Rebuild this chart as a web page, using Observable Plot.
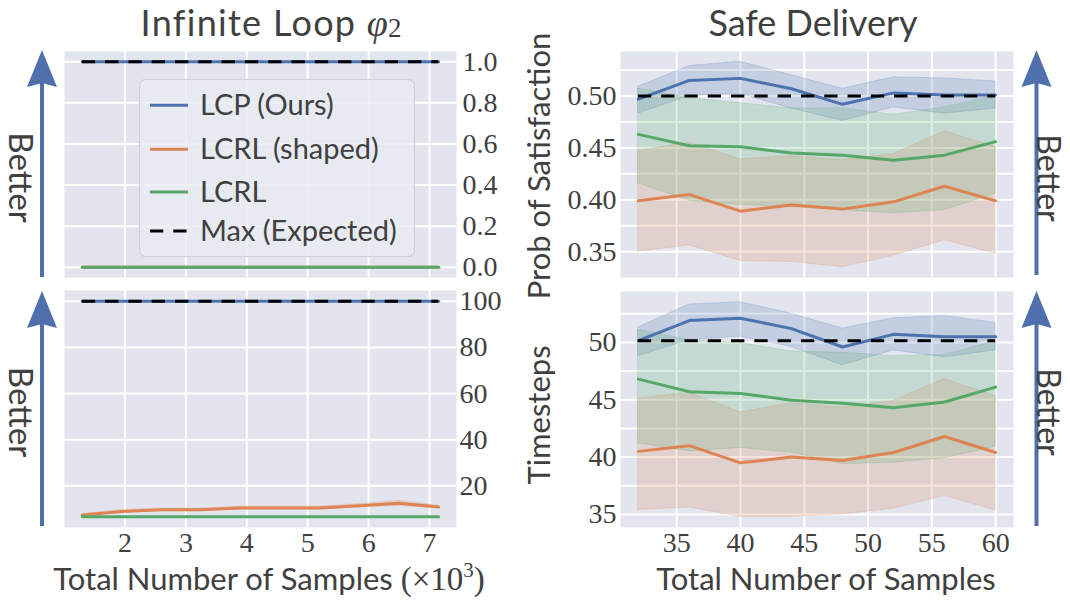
<!DOCTYPE html>
<html><head><meta charset="utf-8">
<script src="https://cdn.jsdelivr.net/npm/d3@7"></script>
<script src="https://cdn.jsdelivr.net/npm/@observablehq/plot@0.6"></script>
<style>
body{margin:0;background:#fff;}
#root{position:relative;width:1070px;height:602px;overflow:hidden;background:#fff;}
#root > svg{position:absolute;left:0;top:0;}
</style></head><body><div id="root"></div>
<script>
// ---------- data ----------
const SERIES = ["LCP (Ours)", "LCRL (shaped)", "LCRL"];
const COLORS = ["#4c72b0", "#dd8452", "#55a868"];
const MAX_LABEL = "Max (Expected)";
const TITLES = ["Infinite Loop ", "Safe Delivery"];
const XLABEL = "Total Number of Samples";
const YLABELS = ["Prob of Satisfaction", "Timesteps"];
const BETTER = "Better";

// Infinite Loop (x in thousands of samples)
const loopX = [1.3, 1.95, 2.6, 3.25, 3.9, 4.55, 5.2, 5.85, 6.5, 7.15];
const loopXTicks = [2, 3, 4, 5, 6, 7];
const loopProbLCP    = [1, 1, 1, 1, 1, 1, 1, 1, 1, 1];
const loopProbShaped = [0, 0, 0, 0, 0, 0, 0, 0, 0, 0];
const loopProbLCRL   = [0, 0, 0, 0, 0, 0, 0, 0, 0, 0];
const loopProbMax = 1.0;
const loopProbTicks = [0, 0.2, 0.4, 0.6, 0.8, 1.0];
const loopStepsLCP      = [100, 100, 100, 100, 100, 100, 100, 100, 100, 100];
const loopStepsShaped   = [7.3, 8.9, 9.6, 9.6, 10.4, 10.4, 10.4, 11.4, 12.4, 10.8];
const loopStepsShapedLo = [6.8, 8.3, 9.0, 9.0, 9.8, 9.8, 9.8, 10.7, 11.3, 10.2];
const loopStepsShapedHi = [7.8, 9.5, 10.2, 10.2, 11.0, 11.0, 11.0, 12.1, 13.5, 11.4];
const loopStepsLCRL     = [6.6, 6.6, 6.6, 6.6, 6.6, 6.6, 6.6, 6.6, 6.6, 6.6];
const loopStepsMax = 100;
const loopStepsTicks = [20, 40, 60, 80, 100];

// Safe Delivery
const delX = [32, 36, 40, 44, 48, 52, 56, 60];
const delXTicks = [35, 40, 45, 50, 55, 60];
const delProbLCP      = [0.497, 0.515, 0.517, 0.507, 0.492, 0.503, 0.501, 0.501];
const delProbLCPLo    = [0.483, 0.500, 0.502, 0.488, 0.476, 0.489, 0.483, 0.488];
const delProbLCPHi    = [0.509, 0.529, 0.533, 0.520, 0.507, 0.518, 0.517, 0.514];
const delProbShaped   = [0.399, 0.405, 0.389, 0.395, 0.391, 0.398, 0.413, 0.399];
const delProbShapedLo = [0.350, 0.356, 0.341, 0.340, 0.335, 0.346, 0.361, 0.348];
const delProbShapedHi = [0.447, 0.455, 0.439, 0.442, 0.438, 0.444, 0.466, 0.451];
const delProbLCRL     = [0.463, 0.452, 0.451, 0.445, 0.443, 0.438, 0.443, 0.456];
const delProbLCRLLo   = [0.416, 0.399, 0.395, 0.393, 0.390, 0.387, 0.390, 0.406];
const delProbLCRLHi   = [0.507, 0.498, 0.493, 0.488, 0.488, 0.482, 0.489, 0.500];
const delProbMax = 0.50;
const delProbTicks = [0.35, 0.40, 0.45, 0.50];
const delProbGrid = [0.35, 0.375, 0.40, 0.425, 0.45, 0.475, 0.50, 0.525];
const delStepsLCP      = [50.15, 51.9, 52.1, 51.2, 49.6, 50.7, 50.5, 50.5];
const delStepsLCPLo    = [48.8, 50.2, 50.5, 49.6, 48.0, 49.3, 48.7, 49.3];
const delStepsLCPHi    = [51.3, 53.3, 53.5, 52.5, 51.2, 52.1, 52.3, 51.7];
const delStepsShaped   = [40.5, 41.0, 39.5, 40.0, 39.7, 40.4, 41.8, 40.4];
const delStepsShapedLo = [35.4, 35.6, 34.8, 34.8, 35.0, 35.5, 36.6, 35.35];
const delStepsShapedHi = [45.1, 45.6, 43.9, 44.7, 44.3, 44.9, 46.8, 45.3];
const delStepsLCRL     = [46.8, 45.7, 45.55, 44.96, 44.7, 44.3, 44.8, 46.1];
const delStepsLCRLLo   = [41.2, 40.5, 40.8, 40.4, 39.4, 39.5, 39.9, 40.9];
const delStepsLCRLHi   = [51.1, 50.2, 49.95, 49.2, 49.1, 48.8, 48.9, 50.1];
const delStepsMax = 50.15;
const delStepsTicks = [35, 40, 45, 50];
const delStepsGrid = [35, 37.5, 40, 42.5, 45, 47.5, 50, 52.5];

// ---------- layout ----------
const W = 1070, H = 602;
const BG = "#e2e5ee";
const TEXT = "#404040";
const ARROW = "#5070ad";
const SANS = "Lato, 'Open Sans', sans-serif";
const SERIF = "'Liberation Serif', 'DejaVu Serif', serif";

function rows(xs, y, lo, hi) {
  return xs.map((x, i) => ({x, y: y[i], lo: lo ? lo[i] : null, hi: hi ? hi[i] : null}));
}
function padded(vals) {
  const [a, b] = d3.extent(vals); const d = b - a; return [a - 0.05 * d, b + 0.05 * d];
}

function panel(o) {
  const [l, t, r, b] = o.frame;
  const all = [o.max];
  for (const s of o.series) { all.push(...s.y); if (s.lo) all.push(...s.lo, ...s.hi); }
  const marks = [Plot.frame({fill: BG, stroke: "none"}),
    Plot.gridX(o.xTicks, {stroke: "#fff", strokeOpacity: 1, strokeWidth: 2}),
    Plot.gridY(o.yGrid, {stroke: "#fff", strokeOpacity: 1, strokeWidth: 2})];
  o.series.forEach((s) => {
    if (s.lo) marks.push(Plot.areaY(rows(o.xs, s.y, s.lo, s.hi), {x: "x", y1: "lo", y2: "hi",
      fill: s.color, fillOpacity: 0.2, stroke: s.color, strokeOpacity: 0.22, strokeWidth: 1}));
  });
  o.series.forEach((s) => {
    marks.push(Plot.lineY(rows(o.xs, s.y), {x: "x", y: "y", stroke: s.color, strokeWidth: 3}));
  });
  marks.push(Plot.ruleY([{y: o.max, x1: o.xs[0], x2: o.xs[o.xs.length - 1]}],
    {y: "y", x1: "x1", x2: "x2", stroke: "#000", strokeWidth: 3, strokeDasharray: "13.3,10"}));
  marks.push(Plot.axisY(o.yTicks, {anchor: o.yAnchor, tickSize: 0, tickPadding: o.yPad,
    tickFormat: o.yFmt, label: null, fontFamily: SERIF}));
  if (o.showX) marks.push(Plot.axisX(o.xTicks, {anchor: "bottom", tickSize: 0, tickPadding: 5,
    tickFormat: d3.format("d"), label: null, fontFamily: SERIF}));
  return Plot.plot({
    width: W, height: H, marginLeft: l, marginTop: t, marginRight: W - r, marginBottom: H - b,
    x: {domain: padded(o.xs), axis: o.showX ? undefined : null},
    y: {domain: padded(all)},
    style: {background: "transparent", overflow: "visible", fontFamily: SERIF, fontSize: "28px", color: TEXT},
    marks
  });
}

const root = document.getElementById("root");
root.appendChild(panel({
  frame: [64, 51, 456, 277], xs: loopX, xTicks: loopXTicks, yTicks: loopProbTicks, yGrid: loopProbTicks,
  yFmt: d3.format(".1f"), yAnchor: "right", yPad: 6, showX: false, max: loopProbMax,
  series: [
    {y: loopProbLCP, color: COLORS[0]},
    {y: loopProbShaped, color: COLORS[1]},
    {y: loopProbLCRL, color: COLORS[2]}]
}));
root.appendChild(panel({
  frame: [64, 290, 456, 527], xs: loopX, xTicks: loopXTicks, yTicks: loopStepsTicks, yGrid: loopStepsTicks,
  yFmt: d3.format("d"), yAnchor: "right", yPad: 3, showX: true, max: loopStepsMax,
  series: [
    {y: loopStepsLCP, color: COLORS[0]},
    {y: loopStepsShaped, lo: loopStepsShapedLo, hi: loopStepsShapedHi, color: COLORS[1]},
    {y: loopStepsLCRL, color: COLORS[2]}]
}));
root.appendChild(panel({
  frame: [620, 51, 1013, 277], xs: delX, xTicks: delXTicks, yTicks: delProbTicks, yGrid: delProbGrid,
  yFmt: d3.format(".2f"), yAnchor: "left", yPad: 4, showX: false, max: delProbMax,
  series: [
    {y: delProbLCP, lo: delProbLCPLo, hi: delProbLCPHi, color: COLORS[0]},
    {y: delProbShaped, lo: delProbShapedLo, hi: delProbShapedHi, color: COLORS[1]},
    {y: delProbLCRL, lo: delProbLCRLLo, hi: delProbLCRLHi, color: COLORS[2]}]
}));
root.appendChild(panel({
  frame: [620, 291, 1013, 527], xs: delX, xTicks: delXTicks, yTicks: delStepsTicks, yGrid: delStepsGrid,
  yFmt: d3.format("d"), yAnchor: "left", yPad: 4, showX: true, max: delStepsMax,
  series: [
    {y: delStepsLCP, lo: delStepsLCPLo, hi: delStepsLCPHi, color: COLORS[0]},
    {y: delStepsShaped, lo: delStepsShapedLo, hi: delStepsShapedHi, color: COLORS[1]},
    {y: delStepsLCRL, lo: delStepsLCRLLo, hi: delStepsLCRLHi, color: COLORS[2]}]
}));

// ---------- overlay: titles, labels, arrows, legend ----------
const ov = d3.create("svg").attr("width", W).attr("height", H)
  .attr("font-family", SANS).attr("fill", TEXT);

// titles
const t1 = ov.append("text").attr("x", 271).attr("y", 35.5).attr("text-anchor", "middle").attr("font-size", 36);
t1.append("tspan").attr("letter-spacing", 1.3).text(TITLES[0]);
t1.append("tspan").attr("font-family", SERIF).attr("font-style", "italic").attr("font-size", 38).text("φ");
t1.append("tspan").attr("font-family", SERIF).attr("font-size", 27).attr("dy", 1).text("2");
ov.append("text").attr("x", 813).attr("y", 35.5).attr("text-anchor", "middle").attr("font-size", 36).text(TITLES[1]);

// x labels
const xl = ov.append("text").attr("x", 269).attr("y", 590).attr("text-anchor", "middle").attr("font-size", 31);
xl.append("tspan").text(XLABEL + " ");
xl.append("tspan").attr("font-family", SERIF).attr("font-size", 33).text("(×10");
xl.append("tspan").attr("font-family", SERIF).attr("font-size", 21).attr("dy", -13).text("3");
xl.append("tspan").attr("font-family", SERIF).attr("font-size", 33).attr("dy", 13).text(")");
ov.append("text").attr("x", 826).attr("y", 590).attr("text-anchor", "middle").attr("font-size", 31).text(XLABEL);

// y labels (right panels)
ov.append("text").attr("transform", "translate(550,166) rotate(-90)").attr("text-anchor", "middle")
  .attr("font-size", 31).text(YLABELS[0]);
ov.append("text").attr("transform", "translate(550,415) rotate(-90)").attr("text-anchor", "middle")
  .attr("font-size", 31).text(YLABELS[1]);

// "Better" arrows
function arrow(x, tip, bottom, tx, ty, fs) {
  ov.append("line").attr("x1", x).attr("x2", x).attr("y1", bottom).attr("y2", tip + 30)
    .attr("stroke", ARROW).attr("stroke-width", 4);
  ov.append("path").attr("d", `M${x},${tip} L${x + 15},${tip + 37} L${x},${tip + 33} L${x - 15},${tip + 37} Z`)
    .attr("fill", ARROW);
  ov.append("text").attr("transform", `translate(${tx},${ty}) rotate(90)`).attr("text-anchor", "middle")
    .attr("font-size", fs).text(BETTER);
}
arrow(42, 50, 277, 9, 177.5, 33);
arrow(42, 291, 526, 9, 412, 33);
arrow(1036.5, 50, 275, 1037, 178, 32);
arrow(1036.5, 291, 526, 1037, 412, 32);

// legend
const lg = ov.append("g");
lg.append("rect").attr("x", 139.5).attr("y", 79.5).attr("width", 275).attr("height", 177).attr("rx", 6)
  .attr("fill", "rgb(234,235,242)").attr("fill-opacity", 0.8).attr("stroke", "#cfd0d8").attr("stroke-width", 1.2);
const legendItems = SERIES.map((s, i) => ({label: s, color: COLORS[i], dash: null}))
  .concat([{label: MAX_LABEL, color: "#000", dash: "13.3,10"}]);
const rowY = [105.3, 149.3, 192, 231];
legendItems.forEach((d, i) => {
  lg.append("line").attr("x1", 150).attr("x2", 188).attr("y1", rowY[i]).attr("y2", rowY[i])
    .attr("stroke", d.color).attr("stroke-width", 3).attr("stroke-dasharray", d.dash);
  lg.append("text").attr("x", 200).attr("y", rowY[i] + 10).attr("font-size", 29).text(d.label);
});
root.appendChild(ov.node());
</script></body></html>
